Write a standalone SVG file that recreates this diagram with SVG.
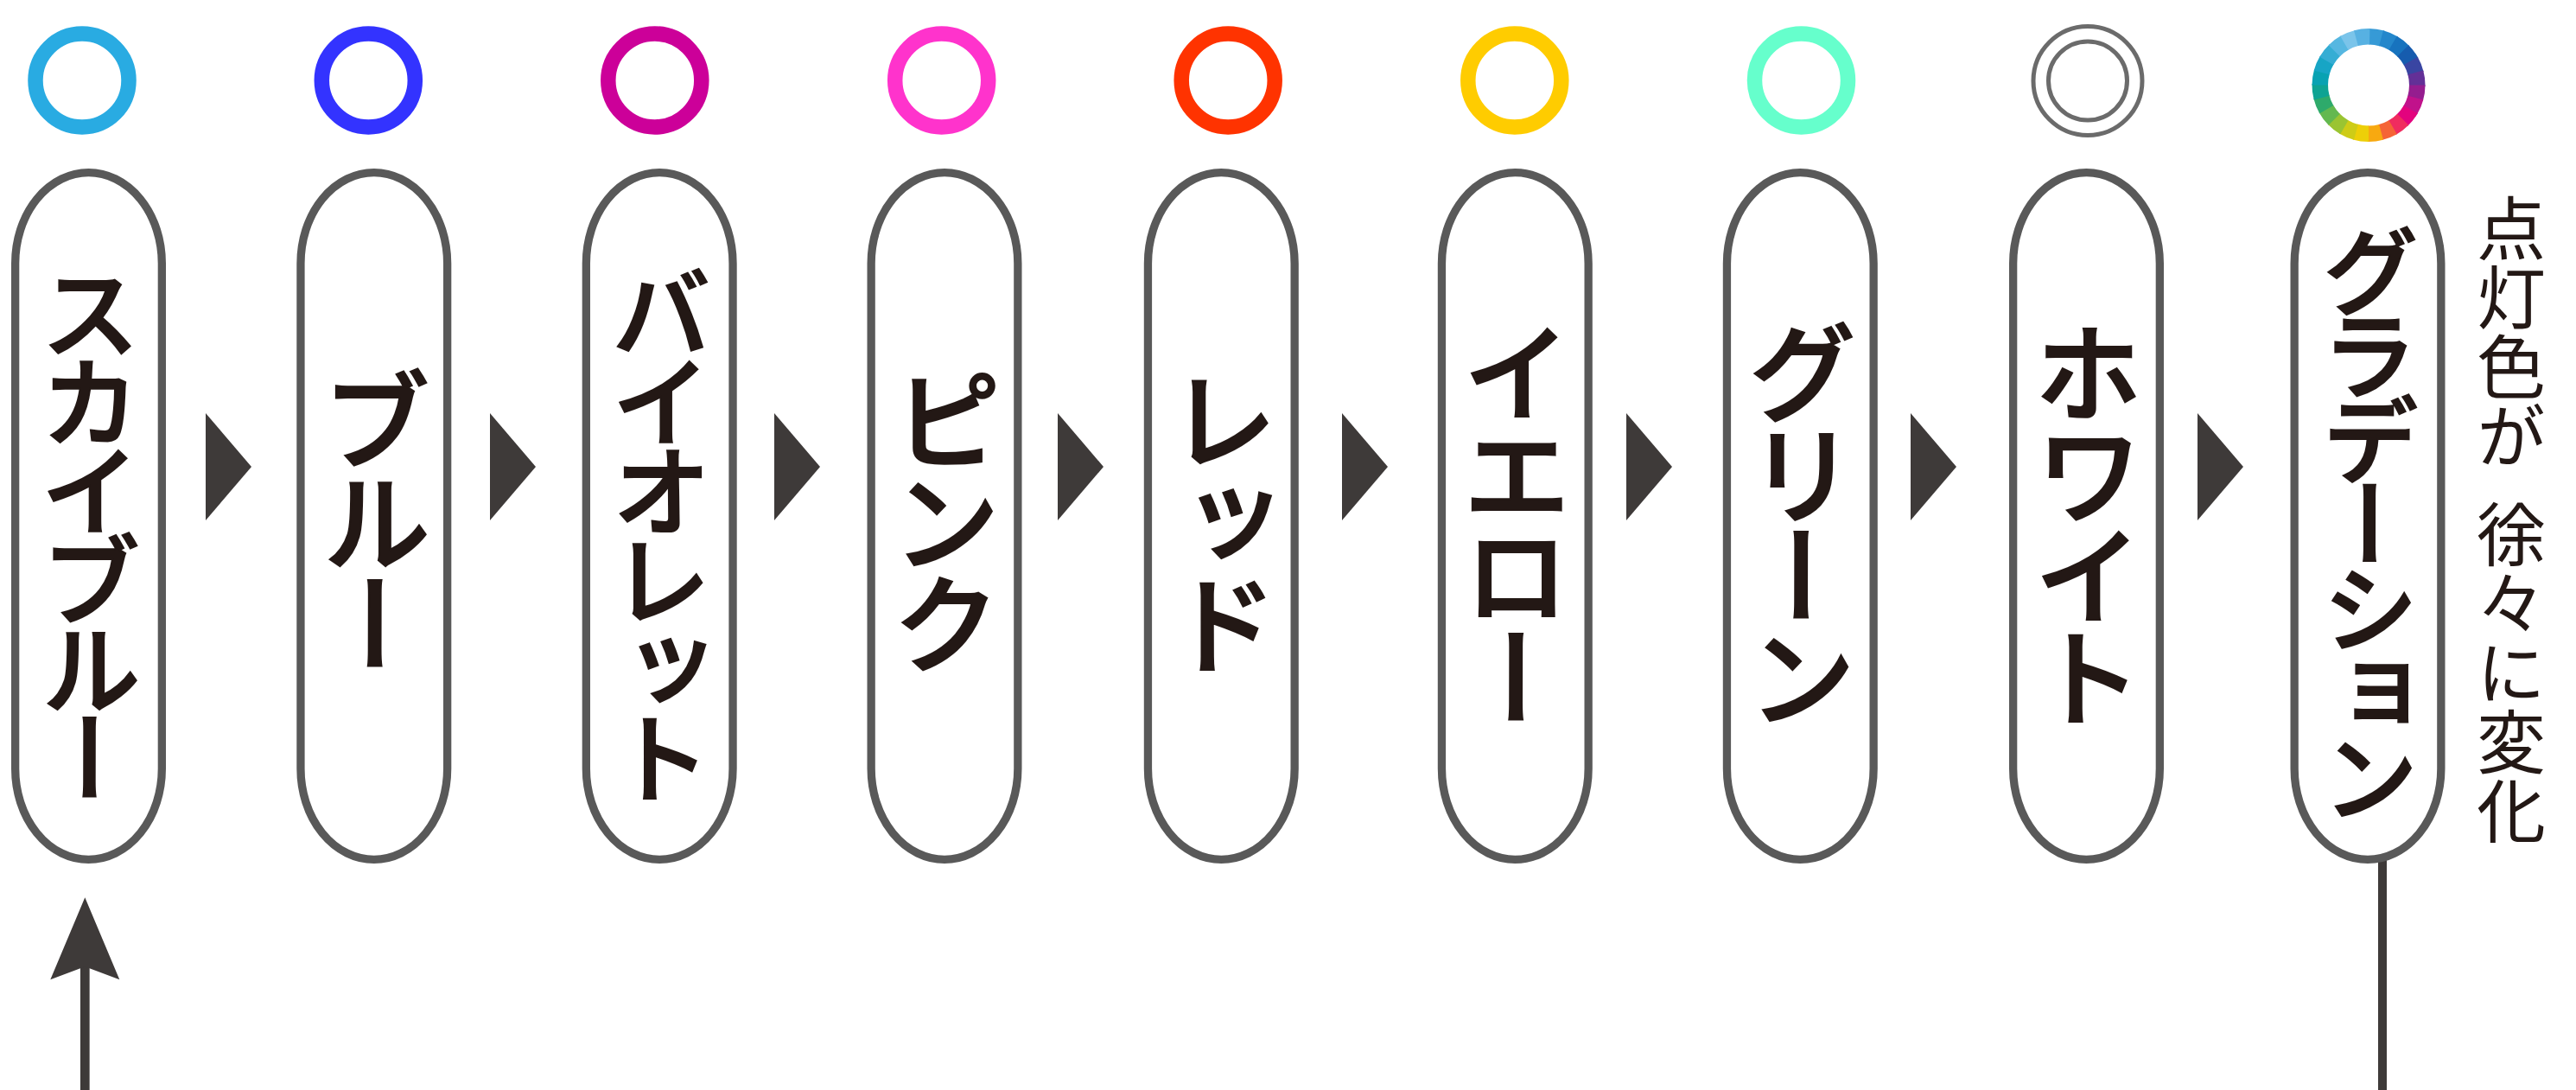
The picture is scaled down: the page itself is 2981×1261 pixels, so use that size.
<svg xmlns="http://www.w3.org/2000/svg" width="2981" height="1261" viewBox="0 0 2981 1261">
<style>
.pill{fill:#fff;stroke:#595959;stroke-width:9.3}
.ring{fill:none;stroke-width:17.5}
.lbl{font-family:"Noto Sans CJK JP","Noto Sans CJK SC",sans-serif;font-size:126px;font-weight:500;fill:#231815;stroke:#231815;stroke-width:2.2;writing-mode:vertical-rl}
.long{font-size:116px;stroke-width:2}
.side{font-family:"Noto Sans CJK JP","Noto Sans CJK SC",sans-serif;font-size:80px;font-weight:400;fill:#231815;writing-mode:vertical-rl}
.tri{fill:#3e3a39}
.seg{fill:none;stroke-width:18.5;stroke-dasharray:16 400}
.wring{fill:none;stroke:#6b6b6b;stroke-width:5}
</style>
<rect width="2981" height="1261" fill="#fff"/>
<g id="connectors">
<polygon class="tri" points="238,478 291,540 238,602"/>
<polygon class="tri" points="567,478 620,540 567,602"/>
<polygon class="tri" points="896,478 949,540 896,602"/>
<polygon class="tri" points="1224,478 1277,540 1224,602"/>
<polygon class="tri" points="1553,478 1606,540 1553,602"/>
<polygon class="tri" points="1882,478 1935,540 1882,602"/>
<polygon class="tri" points="2211,478 2264,540 2211,602"/>
<polygon class="tri" points="2543,478 2596,540 2543,602"/>
<line x1="98.3" y1="1115" x2="98.3" y2="1261" stroke="#3e3a39" stroke-width="10.7"/>
<polygon class="tri" points="98.3,1038.3 138.3,1133.3 98.3,1118.3 58.3,1133.3"/>
<line x1="2757" y1="989" x2="2757" y2="1261" stroke="#3e3a39" stroke-width="10"/>
</g>
<g id="node-skyblue">
<circle class="ring" cx="95" cy="93" r="54" stroke="#29abe2"/>
<rect class="pill" x="17.65" y="199.65" width="169.7" height="794.7" rx="84.85" ry="105"/>
<text class="lbl long" x="104.5" y="304" letter-spacing="-13">スカイブルー</text>
</g>
<g id="node-blue">
<circle class="ring" cx="426.3" cy="93" r="54" stroke="#3333ff"/>
<rect class="pill" x="347.95" y="199.65" width="169.7" height="794.7" rx="84.85" ry="105"/>
<text class="lbl" x="434.8" y="423" letter-spacing="-8">ブルー</text>
</g>
<g id="node-violet">
<circle class="ring" cx="757.8" cy="93" r="54" stroke="#cc0099"/>
<rect class="pill" x="678.35" y="199.65" width="169.7" height="794.7" rx="84.85" ry="105"/>
<text class="lbl long" x="765.2" y="304" letter-spacing="-13">バイオレット</text>
</g>
<g id="node-pink">
<circle class="ring" cx="1089.7" cy="93" r="54" stroke="#ff33cc"/>
<rect class="pill" x="1008.15" y="199.65" width="169.7" height="794.7" rx="84.85" ry="105"/>
<text class="lbl" x="1095" y="423" letter-spacing="-8">ピンク</text>
</g>
<g id="node-red">
<circle class="ring" cx="1421.2" cy="93" r="54" stroke="#ff3300"/>
<rect class="pill" x="1328.45" y="199.65" width="169.7" height="794.7" rx="84.85" ry="105"/>
<text class="lbl" x="1415.3" y="423" letter-spacing="-8">レッド</text>
</g>
<g id="node-yellow">
<circle class="ring" cx="1752.8" cy="93" r="54" stroke="#ffcc00"/>
<rect class="pill" x="1668.45" y="199.65" width="169.7" height="794.7" rx="84.85" ry="105"/>
<text class="lbl" x="1755.3" y="368" letter-spacing="-8.3">イエロー</text>
</g>
<g id="node-green">
<circle class="ring" cx="2084.5" cy="93" r="54" stroke="#66ffcc"/>
<rect class="pill" x="1998.45" y="199.65" width="169.7" height="794.7" rx="84.85" ry="105"/>
<text class="lbl" x="2085.3" y="368" letter-spacing="-8.3">グリーン</text>
</g>
<g id="node-white">
<circle class="wring" cx="2416" cy="93.5" r="63"/>
<circle class="wring" cx="2416" cy="93.5" r="45.5"/>
<rect class="pill" x="2329.65" y="199.65" width="169.7" height="794.7" rx="84.85" ry="105"/>
<text class="lbl" x="2416.5" y="368" letter-spacing="-8.3">ホワイト</text>
</g>
<g id="node-gradation">
<g id="gradient-ring">
<circle class="seg" cx="2741" cy="98.5" r="56.25" stroke="#369ad6" transform="rotate(-90 2741 98.5)"/>
<circle class="seg" cx="2741" cy="98.5" r="56.25" stroke="#2487cb" transform="rotate(-75 2741 98.5)"/>
<circle class="seg" cx="2741" cy="98.5" r="56.25" stroke="#1773be" transform="rotate(-60 2741 98.5)"/>
<circle class="seg" cx="2741" cy="98.5" r="56.25" stroke="#165cae" transform="rotate(-45 2741 98.5)"/>
<circle class="seg" cx="2741" cy="98.5" r="56.25" stroke="#3945a2" transform="rotate(-30 2741 98.5)"/>
<circle class="seg" cx="2741" cy="98.5" r="56.25" stroke="#633097" transform="rotate(-15 2741 98.5)"/>
<circle class="seg" cx="2741" cy="98.5" r="56.25" stroke="#951d8f" transform="rotate(0 2741 98.5)"/>
<circle class="seg" cx="2741" cy="98.5" r="56.25" stroke="#c1128b" transform="rotate(15 2741 98.5)"/>
<circle class="seg" cx="2741" cy="98.5" r="56.25" stroke="#e3037e" transform="rotate(30 2741 98.5)"/>
<circle class="seg" cx="2741" cy="98.5" r="56.25" stroke="#f02c5f" transform="rotate(45 2741 98.5)"/>
<circle class="seg" cx="2741" cy="98.5" r="56.25" stroke="#f56436" transform="rotate(60 2741 98.5)"/>
<circle class="seg" cx="2741" cy="98.5" r="56.25" stroke="#f8a910" transform="rotate(75 2741 98.5)"/>
<circle class="seg" cx="2741" cy="98.5" r="56.25" stroke="#edcf08" transform="rotate(90 2741 98.5)"/>
<circle class="seg" cx="2741" cy="98.5" r="56.25" stroke="#cecc17" transform="rotate(105 2741 98.5)"/>
<circle class="seg" cx="2741" cy="98.5" r="56.25" stroke="#9ac432" transform="rotate(120 2741 98.5)"/>
<circle class="seg" cx="2741" cy="98.5" r="56.25" stroke="#63b84f" transform="rotate(135 2741 98.5)"/>
<circle class="seg" cx="2741" cy="98.5" r="56.25" stroke="#2eaa6b" transform="rotate(150 2741 98.5)"/>
<circle class="seg" cx="2741" cy="98.5" r="56.25" stroke="#0ea393" transform="rotate(165 2741 98.5)"/>
<circle class="seg" cx="2741" cy="98.5" r="56.25" stroke="#08a2b2" transform="rotate(180 2741 98.5)"/>
<circle class="seg" cx="2741" cy="98.5" r="56.25" stroke="#17a5c5" transform="rotate(195 2741 98.5)"/>
<circle class="seg" cx="2741" cy="98.5" r="56.25" stroke="#35add4" transform="rotate(210 2741 98.5)"/>
<circle class="seg" cx="2741" cy="98.5" r="56.25" stroke="#56b7e1" transform="rotate(225 2741 98.5)"/>
<circle class="seg" cx="2741" cy="98.5" r="56.25" stroke="#7ac4ea" transform="rotate(240 2741 98.5)"/>
<circle class="seg" cx="2741" cy="98.5" r="56.25" stroke="#57b1e2" transform="rotate(255 2741 98.5)"/>
</g>
<rect class="pill" x="2655.15" y="199.65" width="169.7" height="794.7" rx="84.85" ry="105"/>
<text class="lbl long" x="2743" y="258" letter-spacing="-14.5" style="font-size:112px">グラデーション</text>
</g>
<g id="note">
<text class="side" x="2906" y="224">点灯色が</text>
<text class="side" x="2906" y="578">徐々に変化</text>
</g>
</svg>
